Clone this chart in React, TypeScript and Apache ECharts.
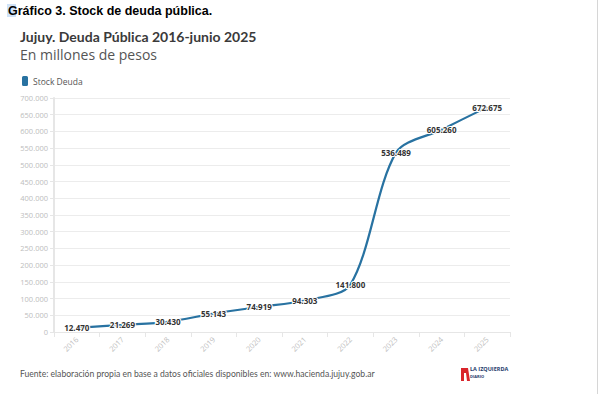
import React, { useEffect, useRef } from "react";
import * as echarts from "echarts";

const years = ["2016", "2017", "2018", "2019", "2020", "2021", "2022", "2023", "2024", "2025"];
const stockDeuda = [12470, 21269, 30430, 55143, 74919, 94303, 141800, 536489, 605260, 672675];
const seriesName = "Stock Deuda";
const docTitle = "Gráfico 3. Stock de deuda pública.";
const chartTitle = "Jujuy. Deuda Pública 2016-junio 2025";
const chartSubtitle = "En millones de pesos";
const footer = "Fuente: elaboración propia en base a datos oficiales disponibles en: www.hacienda.jujuy.gob.ar";

const fmt = (v: number) => v.toString().replace(/\B(?=(\d{3})+(?!\d))/g, ".");

export default function App() {
  const ref = useRef<HTMLDivElement>(null);
  useEffect(() => {
    document.body.style.margin = "0";
    const chart = echarts.init(ref.current!, null, { renderer: "svg" });
    const font = "'Open Sans', 'Noto Sans', sans-serif";
    const narrow = "Lato, 'Open Sans', sans-serif";
    chart.setOption({
      animation: false,
      backgroundColor: "#ffffff",
      textStyle: { fontFamily: font },
      legend: {
        left: 17,
        top: 71,
        itemWidth: 6,
        itemHeight: 10,
        icon: "roundRect",
        itemGap: 4,
        textStyle: { fontSize: 8.5, color: "#555", fontFamily: font },
        data: [{ name: seriesName }],
      },
      grid: { left: 54, right: 90, top: 98, bottom: 62 },
      xAxis: {
        type: "category",
        data: years,
        boundaryGap: true,
        axisLine: { lineStyle: { color: "#e6e6e6", width: 1 } },
        axisTick: { show: true, alignWithLabel: false, lineStyle: { color: "#e6e6e6" } },
        axisLabel: { rotate: 45, color: "#bdbdbd", fontSize: 7.5, margin: 6, fontFamily: font },
      },
      yAxis: {
        type: "value",
        min: 0,
        max: 700000,
        interval: 50000,
        axisLine: { show: true, lineStyle: { color: "#e6e6e6", width: 2 } },
        axisTick: { show: true, length: 4, lineStyle: { color: "#e6e6e6" } },
        axisLabel: { color: "#bdbdbd", fontSize: 7.5, margin: 6, formatter: (v: number) => fmt(v), fontFamily: font },
        splitLine: { lineStyle: { color: "#ececec", width: 1 } },
      },
      series: [
        {
          name: seriesName,
          type: "line",
          data: stockDeuda,
          smooth: 0.3,
          showSymbol: true,
          symbol: "circle",
          symbolSize: 0,
          itemStyle: { color: "#2872a1" },
          lineStyle: { color: "#2872a1", width: 2.2 },
          label: {
            show: true,
            position: "inside",
            formatter: (p: any) => fmt(p.value),
            color: "#333",
            fontWeight: "bold",
            fontSize: 8,
            textBorderColor: "#ffffff",
            textBorderWidth: 2,
            fontFamily: font,
          },
        },
      ],
      graphic: [
        { type: "rect", left: 7, top: 4, shape: { width: 9, height: 13 }, style: { fill: "#cfe2f7" }, z: -1 },
        {
          type: "text",
          left: 8,
          top: 4,
          style: { text: docTitle, font: "bold 12.5px 'Liberation Sans', Arial, sans-serif", fill: "#000" },
        },
        {
          type: "text",
          left: 20,
          top: 29,
          style: { text: chartTitle, font: `bold 14px ${narrow}`, fill: "#3a3a3a" },
        },
        {
          type: "text",
          left: 20,
          top: 47,
          style: { text: chartSubtitle, font: `14px ${font}`, fill: "#555" },
        },
        {
          type: "text",
          left: 20,
          top: 369,
          style: { text: footer, font: `8.6px ${narrow}`, fill: "#555" },
        },
        {
          type: "polygon",
          shape: { points: [[461, 381], [461, 368], [468, 368], [470, 381], [467, 381], [466, 373], [464, 373], [464, 381]] },
          style: { fill: "#d9252b" },
        },
        {
          type: "text",
          left: 470,
          top: 366,
          style: { text: "LA IZQUIERDA", font: `bold 5.5px ${font}`, fill: "#1d3b6b" },
        },
        {
          type: "text",
          left: 470,
          top: 374,
          style: { text: "DIARIO", font: `bold 4px ${font}`, fill: "#1d3b6b" },
        },
        {
          type: "line",
          shape: { x1: 597.5, y1: 0, x2: 597.5, y2: 394 },
          style: { stroke: "#d6d6d6", lineWidth: 1 },
        },
      ],
    });
    return () => chart.dispose();
  }, []);
  return <div ref={ref} style={{ width: 600, height: 394 }} />;
}
